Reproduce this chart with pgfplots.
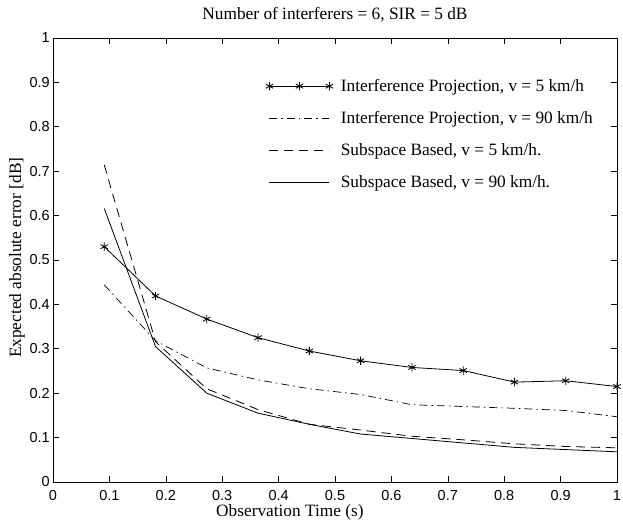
\documentclass[border=0pt]{standalone}
\usepackage{pgfplots}
\pgfplotsset{compat=1.18}
\usepackage{fontspec}
\setmainfont{Liberation Serif}
\setsansfont{Liberation Sans}

\begin{document}
\begin{tikzpicture}
\useasboundingbox (-53pt,-37pt) rectangle (570pt,482pt);
\begin{axis}[
    at={(0pt,0pt)}, anchor=south west,
    scale only axis,
    width=564pt, height=444pt,
    xmin=0, xmax=1, ymin=0, ymax=1,
    xtick={0,0.1,...,1.01}, ytick={0,0.1,...,1.01},
    tick align=inside, major tick length=6pt,
    tick style={line width=0.6pt, black},
    axis line style={line width=0.8pt},
    tick label style={font=\fontsize{14.5}{16}\sffamily, inner sep=0pt},
    /pgf/number format/assume math mode=true,
    xticklabel style={anchor=north, yshift=-8.5pt},
    yticklabel style={anchor=east, xshift=-3pt},
    label style={font=\fontsize{17.3}{20}\selectfont},
    xlabel={Observation Time (s)},
    ylabel={Expected absolute error [dB]},
    xlabel style={at={(axis description cs:0.42,0)}, anchor=base, yshift=-34pt},
    ylabel style={at={(axis description cs:0,0.505)}, anchor=center, yshift=36pt},
    title={Number of interferers = 6, SIR = 5 dB},
    title style={font=\fontsize{17.3}{20}\selectfont, at={(axis description cs:0.5,1)},
        anchor=base, yshift=12pt},
    legend style={draw=none, fill=none, inner sep=0pt,
        at={(axis description cs:0.377,0.9118)}, anchor=north west,
        font=\fontsize{17.3}{20}\selectfont, row sep=14.4pt,
        nodes={inner sep=2pt}},
    legend cell align=left,
]
\addplot[black, line width=0.8pt, mark=asterisk, mark size=4.2pt,
    mark options={line width=0.85pt, solid},
    legend image code/.code={\draw[mark repeat=1, mark phase=1] plot coordinates {(0pt,0pt) (30pt,0pt) (60pt,0pt)};
        \path (69pt,0pt);}]
coordinates {
(0.0909,0.530) (0.1818,0.419) (0.2727,0.367) (0.3636,0.325) (0.4545,0.295)
(0.5455,0.273) (0.6364,0.258) (0.7273,0.251) (0.8182,0.225) (0.9091,0.228) (1.0,0.215)
};
\addlegendentry{Interference Projection, v = 5 km/h}
\addplot[black, line width=0.7pt, dash pattern=on 8pt off 4pt on 1.5pt off 4pt,
    legend image code/.code={\draw plot coordinates {(0pt,0pt) (60pt,0pt)}; \path (69pt,0pt);}]
coordinates {
(0.0909,0.444) (0.1818,0.318) (0.2727,0.257) (0.3636,0.230) (0.4545,0.210)
(0.5455,0.197) (0.6364,0.174) (0.7273,0.170) (0.8182,0.166) (0.9091,0.161) (1.0,0.147)
};
\addlegendentry{Interference Projection, v = 90 km/h}
\addplot[black, line width=0.8pt, dash pattern=on 9pt off 6pt,
    legend image code/.code={\draw plot coordinates {(0pt,0pt) (60pt,0pt)}; \path (69pt,0pt);}]
coordinates {
(0.0909,0.714) (0.1818,0.316) (0.2727,0.210) (0.3636,0.163) (0.4545,0.130)
(0.5455,0.117) (0.6364,0.103) (0.7273,0.095) (0.8182,0.086) (0.9091,0.080) (1.0,0.077)
};
\addlegendentry{Subspace Based, v = 5 km/h.}
\addplot[black, line width=0.8pt,
    legend image code/.code={\draw plot coordinates {(0pt,0pt) (60pt,0pt)}; \path (69pt,0pt);}]
coordinates {
(0.0909,0.616) (0.1818,0.305) (0.2727,0.200) (0.3636,0.155) (0.4545,0.130)
(0.5455,0.108) (0.6364,0.098) (0.7273,0.088) (0.8182,0.078) (0.9091,0.073) (1.0,0.068)
};
\addlegendentry{Subspace Based, v = 90 km/h.}
\end{axis}
\end{tikzpicture}
\end{document}
